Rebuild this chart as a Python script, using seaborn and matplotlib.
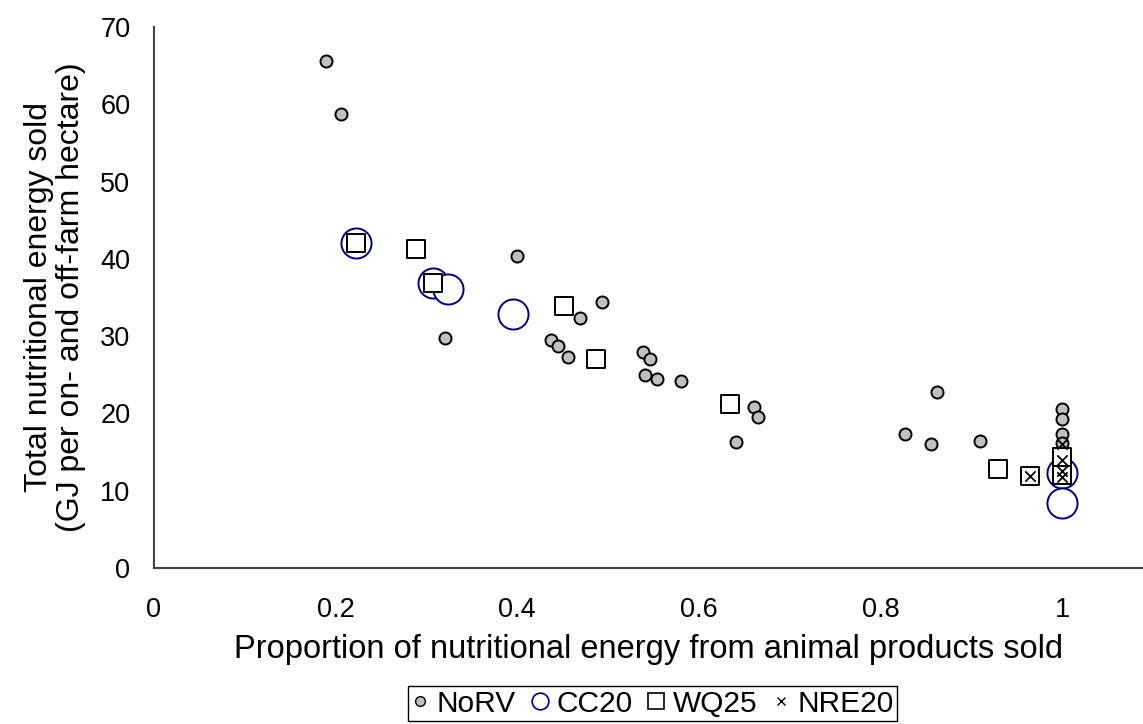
import numpy as np
import pandas as pd
import seaborn as sns
import matplotlib.pyplot as plt
from matplotlib.lines import Line2D

# values
norv_x = [0.189, 0.206, 0.320, 0.400, 0.469, 0.493, 0.437, 0.445, 0.456, 0.539, 0.546, 0.541, 0.554,
          0.580, 0.661, 0.665, 0.641, 0.862, 0.827, 0.856, 0.910, 1.0, 1.0, 1.0, 1.0]
norv_y = [65.6, 58.8, 29.8, 40.4, 32.3, 34.4, 29.5, 28.7, 27.3, 27.9, 27.1, 25.0, 24.4,
          24.2, 20.8, 19.5, 16.3, 22.8, 17.3, 16.0, 16.4, 20.6, 19.3, 17.3, 16.2]
cc20_x = [0.222, 0.307, 0.324, 0.395, 1.0, 1.0]
cc20_y = [42.0, 36.9, 36.1, 32.9, 12.3, 8.4]
wq25_x = [0.222, 0.288, 0.307, 0.452, 0.487, 0.634, 0.929, 0.965, 1.0, 1.0]
wq25_y = [42.0, 41.3, 36.9, 33.9, 27.0, 21.2, 12.8, 11.9, 14.4, 12.0]
nre20_x = [0.965, 1.0, 1.0, 1.0, 1.0]
nre20_y = [11.9, 16.0, 14.0, 12.5, 11.8]

x_ticks = [0, 0.2, 0.4, 0.6, 0.8, 1]
x_tick_labels = ['0', '0.2', '0.4', '0.6', '0.8', '1']
y_ticks = [0, 10, 20, 30, 40, 50, 60, 70]

df = pd.concat([
    pd.DataFrame({'prop': norv_x, 'energy': norv_y, 'scenario': 'NoRV'}),
    pd.DataFrame({'prop': cc20_x, 'energy': cc20_y, 'scenario': 'CC20'}),
    pd.DataFrame({'prop': wq25_x, 'energy': wq25_y, 'scenario': 'WQ25'}),
    pd.DataFrame({'prop': nre20_x, 'energy': nre20_y, 'scenario': 'NRE20'}),
], ignore_index=True)

sns.set_style("white")
plt.rcParams['font.family'] = ['Liberation Sans', 'DejaVu Sans']
plt.rcParams['text.color'] = 'black'
plt.rcParams['axes.labelcolor'] = 'black'

navy = '#000080'
styles = {
    'NoRV': dict(marker='o', s=75, facecolor='#c0c0c0', edgecolor='black', linewidth=1.4),
    'CC20': dict(marker='o', s=470, facecolor='white', edgecolor=navy, linewidth=1.4),
    'WQ25': dict(marker='s', s=170, facecolor='white', edgecolor='black', linewidth=1.4),
    'NRE20': dict(marker='x', s=55, color='black', linewidth=1.3),
}

fig = plt.figure(figsize=(11.43, 7.24), dpi=100)
ax = fig.add_axes([0.1347, 0.2155, 0.8653, 0.7472])

for name, st in styles.items():
    sns.scatterplot(data=df[df['scenario'] == name], x='prop', y='energy', ax=ax,
                    legend=False, zorder=3, **st)

ax.set_xlim(0, 1.089)
ax.set_ylim(0, 70)
ax.set_xticks(x_ticks)
ax.set_xticklabels(x_tick_labels)
ax.set_yticks(y_ticks)
ax.tick_params(axis='both', labelsize=19.5, length=7, width=1.2, color='#555555',
               labelcolor='black', direction='out')
ax.tick_params(axis='x', pad=14)
ax.tick_params(axis='y', pad=10)

for side in ['top', 'right']:
    ax.spines[side].set_visible(False)
for side in ['left', 'bottom']:
    ax.spines[side].set_color('#444444')
    ax.spines[side].set_linewidth(1.5)

ax.set_xlabel('Proportion of nutritional energy from animal products sold', fontsize=23.5, labelpad=8)
ax.set_ylabel('Total nutritional energy sold\n(GJ per on- and off-farm hectare)', fontsize=23,
              labelpad=10, linespacing=1.1)

handles = [
    Line2D([], [], linestyle='none', marker='o', markersize=7, markerfacecolor='#c0c0c0',
           markeredgecolor='black', markeredgewidth=1.0),
    Line2D([], [], linestyle='none', marker='o', markersize=12, markerfacecolor='white',
           markeredgecolor=navy, markeredgewidth=1.2),
    Line2D([], [], linestyle='none', marker='s', markersize=12, markerfacecolor='white',
           markeredgecolor='black', markeredgewidth=1.2),
    Line2D([], [], linestyle='none', marker='x', markersize=6, color='black', markeredgewidth=1.0),
]
leg = fig.legend(handles, ['NoRV', 'CC20', 'WQ25', 'NRE20'], loc='center',
                 bbox_to_anchor=(0.571, 0.028), ncol=4, fontsize=21.5, frameon=True,
                 fancybox=False, edgecolor='black', framealpha=1, handlelength=0.6,
                 handletextpad=0.25, columnspacing=0.5, borderpad=0.12, borderaxespad=0)
leg.get_frame().set_linewidth(1.0)

fig.savefig('out.png', dpi=100)
